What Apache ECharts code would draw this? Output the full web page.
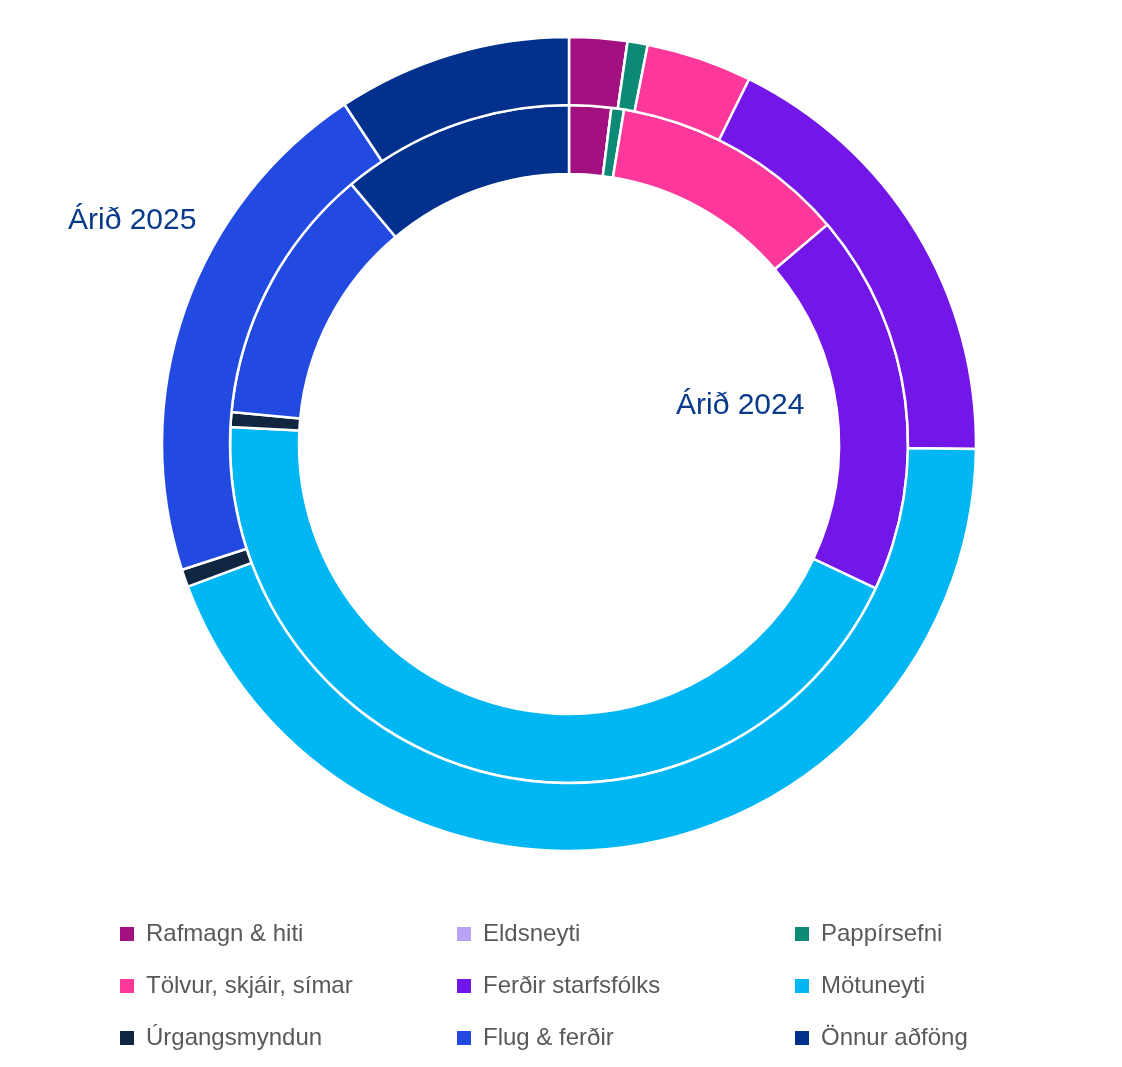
<!DOCTYPE html>
<html>
<head>
<meta charset="utf-8">
<script src="https://cdn.jsdelivr.net/npm/echarts@6/dist/echarts.min.js"></script>
<style>
  html, body { margin: 0; padding: 0; background: #fff; }
  #chart { width: 1122px; height: 1067px; }
</style>
</head>
<body>
<div id="chart"></div>
<script>
// flokkar og litir
var categories = ["Rafmagn & hiti", "Eldsneyti", "Pappírsefni", "Tölvur, skjáir, símar",
  "Ferðir starfsfólks", "Mötuneyti", "Úrgangsmyndun", "Flug & ferðir", "Önnur aðföng"];
var colors = ["#a3107f", "#b7a2f4", "#0d8a76", "#fd389a", "#7316e8", "#00b6f3", "#0f2540", "#2249e0", "#01318c"];

// hlutfall (%) lesið af myndinni
var values2024 = [2.0, 0, 0.6, 11.2, 18.2, 43.8, 0.7, 12.4, 11.1];
var values2025 = [2.3, 0, 0.8, 4.2, 17.9, 44.1, 0.7, 20.7, 9.3];

function toData(vals) {
  return categories.map(function (c, i) { return {name: c, value: vals[i]}; });
}

var chart = echarts.init(document.getElementById("chart"));

function legendCol(left, names) {
  return {
    orient: "vertical", left: left, top: 917, data: names,
    itemWidth: 16, itemHeight: 16, itemGap: 28, icon: "rect",
    textStyle: {fontFamily: "Liberation Sans", fontSize: 24, lineHeight: 24, color: "#595959", padding: [0, 0, 0, 6]}
  };
}

var option = {
  color: colors,
  animation: false,
  legend: [
    legendCol(113, [categories[0], categories[3], categories[6]]),
    legendCol(450, [categories[1], categories[4], categories[7]]),
    legendCol(788, [categories[2], categories[5], categories[8]])
  ],
  graphic: [
    {type: "text", left: 68, top: 206, style: {text: "Árið 2025", fontFamily: "Liberation Sans", fontSize: 30, fill: "#0a3a8a"}},
    {type: "text", left: 676, top: 391, style: {text: "Árið 2024", fontFamily: "Liberation Sans", fontSize: 30, fill: "#0a3a8a"}}
  ],
  series: [
    {
      name: "Árið 2024", type: "pie", center: [569, 444], radius: [270, 339],
      startAngle: 90, clockwise: true, label: {show: false}, labelLine: {show: false},
      itemStyle: {borderColor: "#fff", borderWidth: 2.5}, emphasis: {disabled: true},
      data: toData(values2024)
    },
    {
      name: "Árið 2025", type: "pie", center: [569, 444], radius: [339, 407],
      startAngle: 90, clockwise: true, label: {show: false}, labelLine: {show: false},
      itemStyle: {borderColor: "#fff", borderWidth: 2.5}, emphasis: {disabled: true},
      data: toData(values2025)
    }
  ]
};
chart.setOption(option);
</script>
</body>
</html>
